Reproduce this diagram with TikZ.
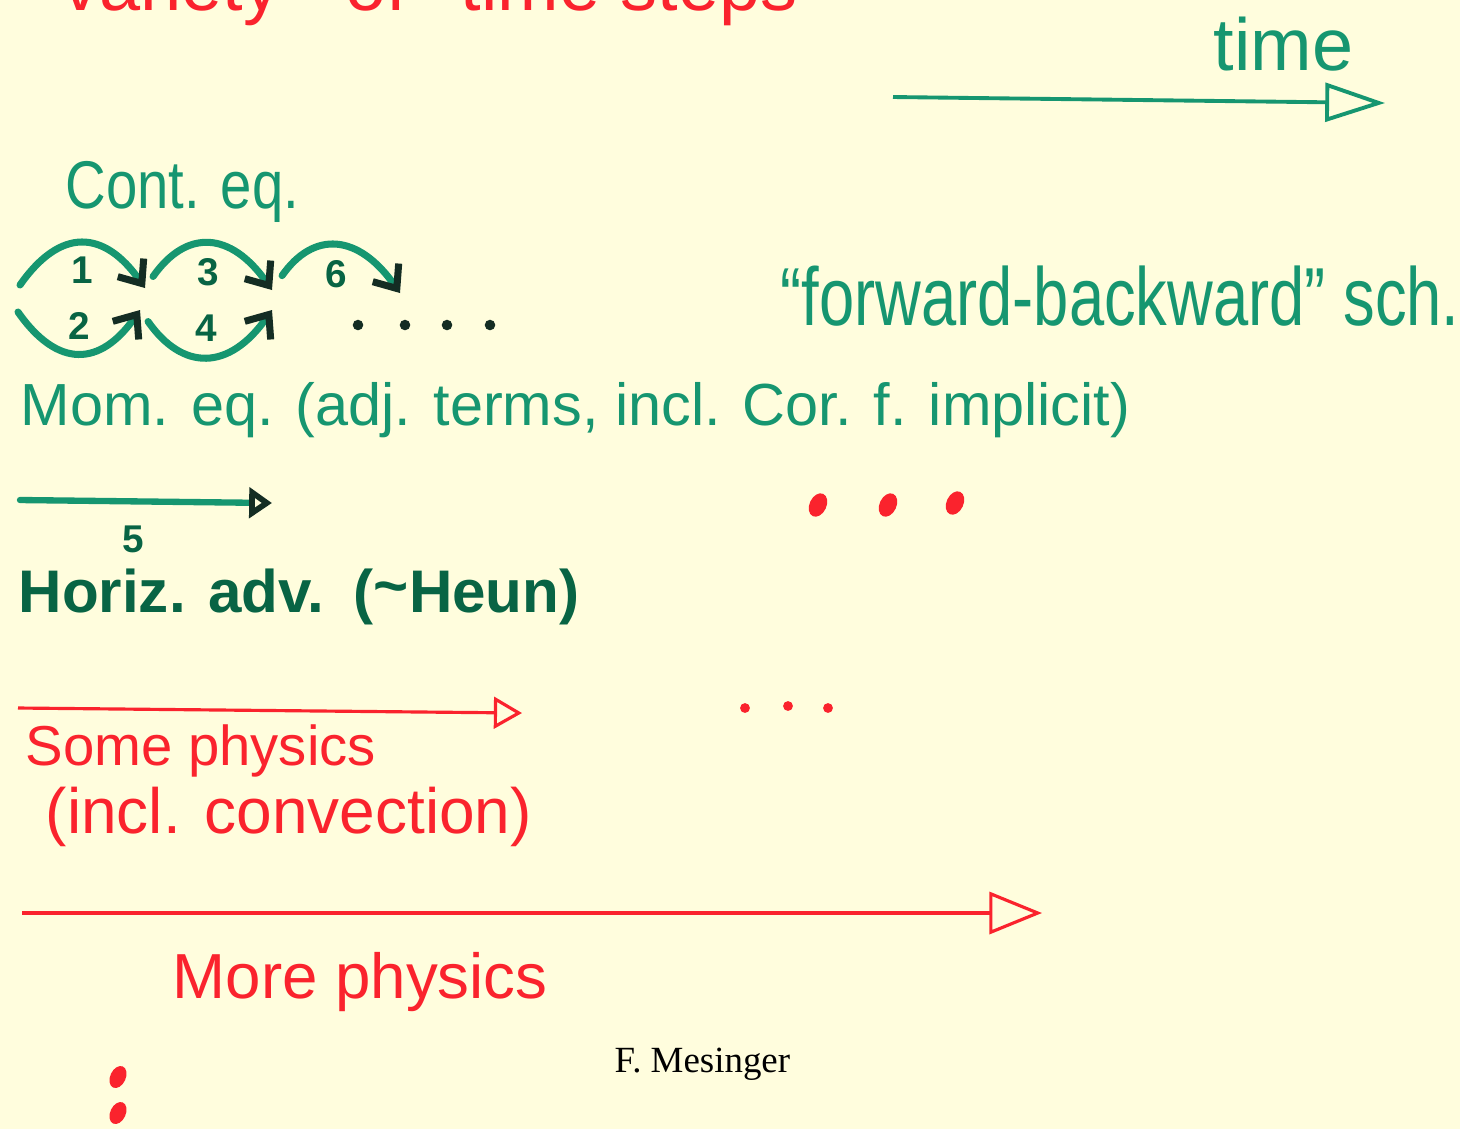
\documentclass[tikz,border=0pt]{standalone}
\usepackage{fontspec}
\setmainfont{Liberation Sans}
\newfontfamily\creditfont{Liberation Serif}
\usetikzlibrary{arrows.meta}

\definecolor{paper}{RGB}{255,253,221}
\definecolor{penGreen}{RGB}{22,150,112}
\definecolor{darkGreen}{RGB}{8,100,68}
\definecolor{penRed}{RGB}{250,35,45}
\definecolor{tipInk}{RGB}{20,45,35}

\begin{document}
\begin{tikzpicture}[x=0.01cm, y=0.01cm, >=latex]

% --- Styles ---
\tikzset{
    greenText/.style={text=penGreen, anchor=base west, inner sep=0pt},
    darkText/.style={text=darkGreen, anchor=base west, inner sep=0pt},
    redText/.style={text=penRed, anchor=base west, inner sep=0pt},
    numLabel/.style={text=darkGreen, font=\fontsize{11}{11}\selectfont\bfseries, inner sep=1pt},
    stepArc/.style={
        draw=penGreen, line width=2pt, line cap=round,
        -{Straight Barb[length=5.5pt, width=9pt, color=tipInk]}
    },
    timeArrow/.style={
        draw=penGreen, line width=1.1pt,
        -{Triangle[open, length=17pt, width=11pt]}
    },
    advArrow/.style={
        draw=penGreen, line width=1.8pt, line cap=round,
        -{Triangle[open, length=6.5pt, width=8.5pt, color=tipInk]}
    },
    physArrow/.style={
        draw=penRed, line width=0.9pt,
        -{Triangle[open, length=8pt, width=9pt]}
    },
    bigPhysArrow/.style={
        draw=penRed, line width=0.9pt,
        -{Triangle[open, length=15pt, width=12pt]}
    }
}

% --- Page ---
\useasboundingbox (0,0) rectangle (1460,-1129);
\fill[paper] (0,0) rectangle (1460,-1129);

% title, cut off at the top edge
\begin{scope}[every node/.style={redText, font=\fontsize{21}{21}\selectfont}]
    \node (titleA) at (62,-10) {variety};
    \node (titleB) at (345,-10) {of};
    \node (titleC) at (460,-10) {time};
    \node (titleD) at (620,-10) {steps};
\end{scope}

% --- Time axis ---
\node[greenText, font=\fontsize{21}{21}\selectfont] (timeLbl) at (1213,-70) {time};
\coordinate (t0) at (893,-97);
\coordinate (t1) at (1385,-103);
\draw[timeArrow] (t0) -- (t1);

% --- Continuity / momentum steps ---
\node[greenText, font=\fontsize{16}{16}\selectfont] (contLbl) at (65,-208) {\scalebox{1}[1.2]{Cont. eq.}};

\coordinate (u0) at (20,-285);
\coordinate (u1) at (145,-288);
\coordinate (u2) at (272,-290);
\coordinate (u3) at (400,-293);
\coordinate (d0) at (18,-312);
\coordinate (d1) at (140,-310);
\coordinate (d2) at (272,-310);

\draw[stepArc] (u0) to[out=55, in=125, looseness=1.45] node[numLabel, below=2pt] (s1) {1} (u1);
\draw[stepArc, shorten <=4pt] (u1) to[out=55, in=125, looseness=1.45] node[numLabel, below=2pt] (s3) {3} (u2);
\draw[stepArc, shorten <=5pt] (u2) to[out=55, in=125, looseness=1.45] node[numLabel, below=2pt] (s6) {6} (u3);
\draw[stepArc] (d0) to[out=-55, in=-125, looseness=1.45] node[numLabel, above=2pt] (s2) {2} (d1);
\draw[stepArc, shorten <=4pt] (d1) to[out=-55, in=-125, looseness=1.45] node[numLabel, above=2pt] (s4) {4} (d2);

\foreach \x in {358,405,447,490}
    \fill[tipInk] (\x,-325) circle (1.5pt);

\node[greenText, font=\fontsize{18}{18}\selectfont] (fbLbl) at (780,-325) {\scalebox{1}[1.3]{``forward-backward'' sch.}};

\node[greenText, font=\fontsize{16.9}{18}\selectfont] (momLbl) at (20,-425) {Mom. eq. (adj. terms, incl. Cor. f. implicit)};

% --- Horizontal advection ---
\coordinate (h0) at (20,-500);
\coordinate (h1) at (272,-503);
\draw[advArrow] (h0) -- node[numLabel, pos=0.45, below=5pt] (s5) {5} (h1);

\foreach \x/\y in {818/-505, 888/-505, 955/-503}
    \fill[penRed, rotate around={-25:(\x,\y)}] (\x,\y) ellipse (2.4pt and 3.5pt);

\node[darkText, font=\fontsize{17.1}{18}\selectfont\bfseries] (horizLbl) at (18,-612) {Horiz. adv.\hspace{0.5em}(\raisebox{0.1em}{\char"007E}Heun)};

% --- Physics ---
\coordinate (p0) at (18,-708);
\coordinate (p1) at (522,-713);
\draw[physArrow] (p0) -- (p1);

\foreach \x/\y in {745/-708, 788/-706, 828/-708}
    \fill[penRed] (\x,\y) circle (1.4pt);

\node[redText, font=\fontsize{16}{16}\selectfont] (someLbl) at (25,-765) {Some physics};
\node[redText, font=\fontsize{18.2}{18}\selectfont] (convLbl) at (45,-833) {(incl. convection)};

\coordinate (q0) at (22,-913);
\coordinate (q1) at (1042,-913);
\draw[bigPhysArrow] (q0) -- (q1);

\node[redText, font=\fontsize{18.1}{18}\selectfont] (moreLbl) at (172,-998) {More physics};

\foreach \y in {-1077,-1113}
    \fill[penRed, rotate around={-25:(118,\y)}] (118,\y) ellipse (2.2pt and 3.3pt);

% --- Credit ---
\node[anchor=base west, inner sep=0pt, font=\creditfont\fontsize{10.5}{12}\selectfont] (credit) at (614,-1072) {F. Mesinger};

\end{tikzpicture}
\end{document}
